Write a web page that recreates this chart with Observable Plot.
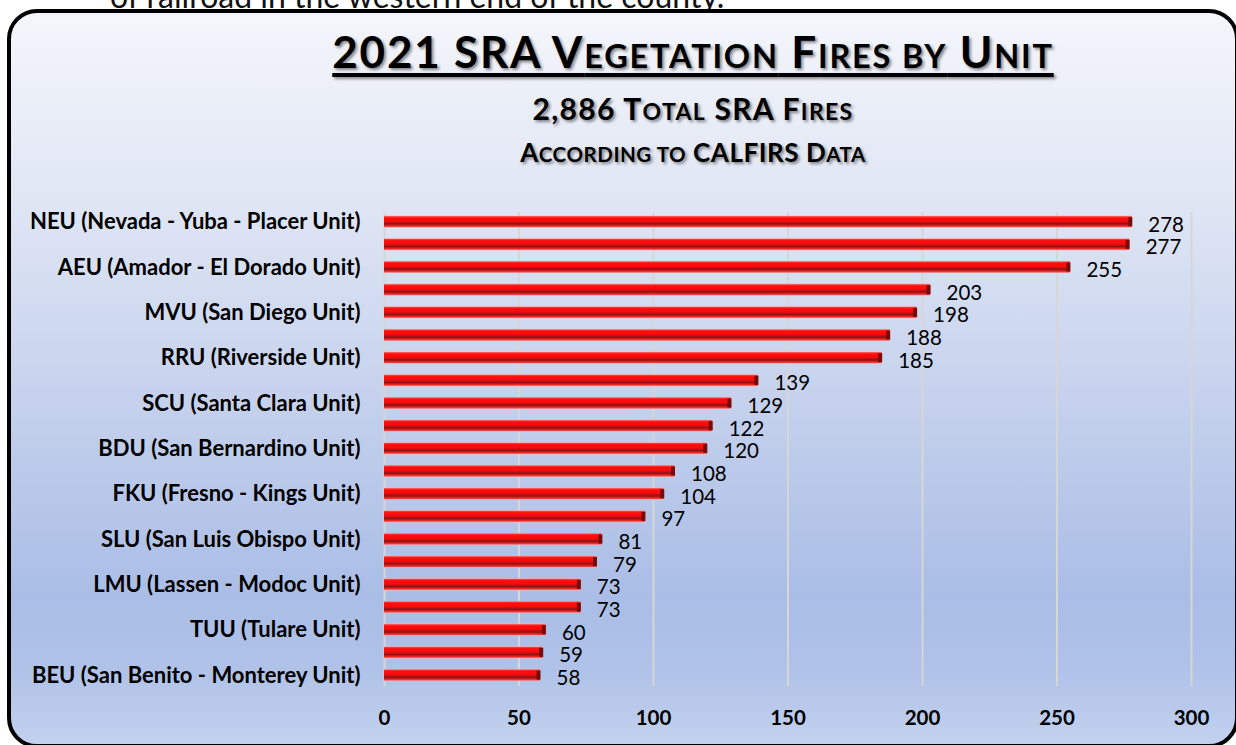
<!DOCTYPE html>
<html>
<head>
<meta charset="utf-8">
<script src="https://cdn.jsdelivr.net/npm/d3@7"></script>
<script src="https://cdn.jsdelivr.net/npm/@observablehq/plot@0.6"></script>
<style>
  html, body { margin: 0; padding: 0; background: #ffffff; }
  #page { position: relative; width: 1236px; height: 745px; overflow: hidden; font-family: Lato, "Open Sans", sans-serif; }
  #topline { position: absolute; left: 110px; top: -20px; font-size: 32px; line-height: 32px; color: #111; white-space: nowrap; font-family: Lato, sans-serif; }
  #frame { position: absolute; left: 7px; top: 9px; width: 1224px; height: 731px; border: 4px solid #000; border-radius: 30px;
           background: linear-gradient(to bottom, #f4f6fb 0%, #e0e6f4 25%, #c6d2ed 52%, #aabde6 80%, #b0c2e8 90%, #c2d1ee 100%); }
  .ttl { position: absolute; left: 93px; width: 1200px; text-align: center; font-weight: bold; color: #000; line-height: 1;
         text-shadow: 2px 2px 3px rgba(0,0,0,0.45); white-space: nowrap; }
  .sc { text-transform: uppercase; }
  #title { top: 29px; font-size: 44px; letter-spacing: 1.8px; text-decoration: underline; text-decoration-thickness: 4px; text-underline-offset: 5px; }
  #title .sc { font-size: 32.5px; }
  #sub1 { top: 93px; font-size: 30px; letter-spacing: 1.3px; }
  #sub1 .sc { font-size: 23px; }
  #sub2 { top: 139px; font-size: 26px; letter-spacing: 0.55px; }
  #sub2 .sc { font-size: 20.5px; }
  #chart { position: absolute; left: 0; top: 200px; }
</style>
</head>
<body>
<div id="page">
  <div id="topline">of railroad in the western end of the county.</div>
  <div id="frame"></div>
  <div class="ttl" id="title">2021 SRA V<span class="sc">egetation</span> F<span class="sc">ires by</span> U<span class="sc">nit</span></div>
  <div class="ttl" id="sub1">2,886 T<span class="sc">otal</span> SRA F<span class="sc">ires</span></div>
  <div class="ttl" id="sub2">A<span class="sc">ccording to</span> CALFIRS D<span class="sc">ata</span></div>
  <div id="chart"></div>
</div>
<script>
// Units in chart order (top to bottom). Every second unit label is not printed in the source chart.
const units = [
  "NEU (Nevada - Yuba - Placer Unit)", "(unlabeled 2)",
  "AEU (Amador - El Dorado Unit)", "(unlabeled 4)",
  "MVU (San Diego Unit)", "(unlabeled 6)",
  "RRU (Riverside Unit)", "(unlabeled 8)",
  "SCU (Santa Clara Unit)", "(unlabeled 10)",
  "BDU (San Bernardino Unit)", "(unlabeled 12)",
  "FKU (Fresno - Kings Unit)", "(unlabeled 14)",
  "SLU (San Luis Obispo Unit)", "(unlabeled 16)",
  "LMU (Lassen - Modoc Unit)", "(unlabeled 18)",
  "TUU (Tulare Unit)", "(unlabeled 20)",
  "BEU (San Benito - Monterey Unit)"
];
const fires = [278, 277, 255, 203, 198, 188, 185, 139, 129, 122, 120, 108, 104, 97, 81, 79, 73, 73, 60, 59, 58];
const xTicks = [0, 50, 100, 150, 200, 250, 300];

const data = units.map((u, i) => ({unit: u, fires: fires[i]}));

const chart = Plot.plot({
  width: 1236,
  height: 531,
  marginLeft: 384,
  marginRight: 45,
  marginTop: 5,
  marginBottom: 39.3,
  style: {background: "transparent", fontFamily: "Lato, 'Open Sans', sans-serif", color: "#000", overflow: "visible"},
  x: {domain: [0, 300], ticks: xTicks, label: null},
  y: {domain: units, padding: 0.47, round: false, label: null},
  marks: [
    Plot.gridX(xTicks, {stroke: "#d6d6d6", strokeOpacity: 1, strokeWidth: 2, insetTop: 7, insetBottom: 5.7}),
    Plot.barX(data, {y: "unit", x: "fires", fill: "url(#barGrad)"}),
    Plot.tickX(data, {y: "unit", x: "fires", stroke: "#7a0a0a", strokeWidth: 4, dx: -2, insetTop: 1.5, insetBottom: 1.5}),
    Plot.text(data, {y: "unit", x: "fires", text: d => String(d.fires), textAnchor: "start", dx: 16, dy: 3, fontSize: 20.5, fill: "#000"}),
    Plot.axisX(xTicks, {tickSize: 0, tickPadding: 18.5, fontSize: 20.5, fontWeight: "bold", label: null}),
    Plot.axisY({tickSize: 0, tickPadding: 24, fontSize: 22, fontWeight: "bold", label: null,
                tickFormat: d => d.startsWith("(unlabeled") ? "" : d})
  ]
});

// gradient for the bevelled red bars
const ns = "http://www.w3.org/2000/svg";
const defs = document.createElementNS(ns, "defs");
defs.innerHTML = `
  <linearGradient id="barGrad" x1="0" y1="0" x2="0" y2="1">
    <stop offset="0%" stop-color="#f6b0b0"/>
    <stop offset="10%" stop-color="#ff3030"/>
    <stop offset="20%" stop-color="#ff0d0d"/>
    <stop offset="48%" stop-color="#f80a0a"/>
    <stop offset="58%" stop-color="#b01414"/>
    <stop offset="70%" stop-color="#8a1515"/>
    <stop offset="80%" stop-color="#e21818"/>
    <stop offset="90%" stop-color="#f03a3a"/>
    <stop offset="100%" stop-color="#f4b8b8"/>
  </linearGradient>`;
chart.insertBefore(defs, chart.firstChild);

document.getElementById("chart").appendChild(chart);
</script>
</body>
</html>
